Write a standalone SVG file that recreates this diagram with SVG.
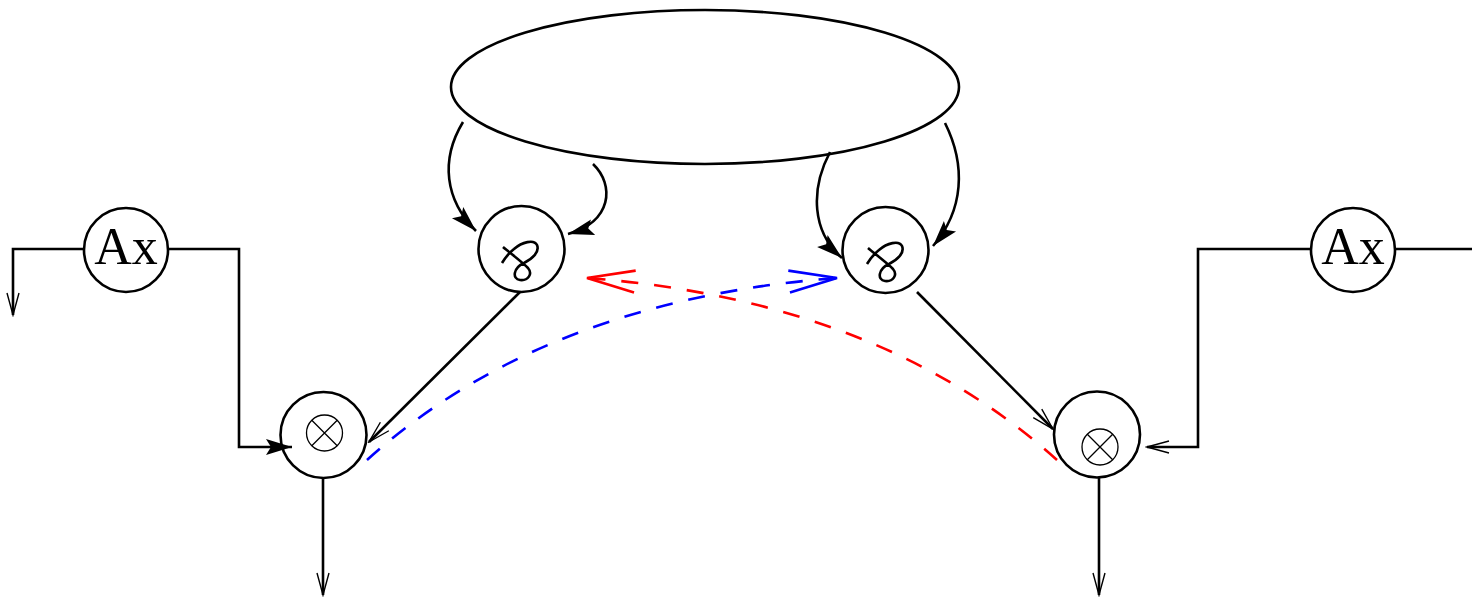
<svg xmlns="http://www.w3.org/2000/svg" width="1472" height="598" viewBox="0 0 1472 598">
<style>
.n{fill:none;stroke:#000;stroke-width:2.6}
.thin{fill:none;stroke:#000;stroke-width:1.3}
.ln{fill:none;stroke:#000;stroke-width:2.6}
.ax{font-family:"Liberation Serif","Times New Roman",serif;font-size:52px;fill:#000}
.db{fill:none;stroke:#0000ff;stroke-width:2.6;stroke-dasharray:17 16}
.dr{fill:none;stroke:#ff0000;stroke-width:2.6;stroke-dasharray:17 16}
</style>
<defs>
<marker id="mf" markerUnits="userSpaceOnUse" viewBox="-30 -12 32 24" refX="0" refY="0" markerWidth="32" markerHeight="24" orient="auto">
<path d="M0,0 L-26,-8 L-21,0 L-26,8 z" fill="#000"/>
</marker>
<marker id="mo" markerUnits="userSpaceOnUse" viewBox="-26 -10 28 20" refX="0" refY="0" markerWidth="28" markerHeight="20" orient="auto">
<path d="M-22,-6 L0,0 L-22,6" fill="none" stroke="#000" stroke-width="1.4"/>
</marker>
<marker id="mb" markerUnits="userSpaceOnUse" viewBox="-52 -14 56 28" refX="0" refY="0" markerWidth="56" markerHeight="28" orient="auto">
<path d="M-48,-11 L0,0 L-48,11" fill="none" stroke="#0000ff" stroke-width="2.6"/>
</marker>
<marker id="mr" markerUnits="userSpaceOnUse" viewBox="-52 -14 56 28" refX="0" refY="0" markerWidth="56" markerHeight="28" orient="auto">
<path d="M-48,-11 L0,0 L-48,11" fill="none" stroke="#ff0000" stroke-width="2.6"/>
</marker>
</defs>

<g id="connectors">
<path class="ln" d="M84,249 H13 V315" marker-end="url(#mo)"/>
<path class="ln" d="M168,249 H239 V447 H292" marker-end="url(#mf)"/>
<path class="ln" d="M1311,249 H1198 V447 H1147" marker-end="url(#mo)"/>
<path class="ln" d="M1395,249 H1472"/>
<path class="ln" d="M323,478 V595" marker-end="url(#mo)"/>
<path class="ln" d="M1099,477 V595" marker-end="url(#mo)"/>
<path class="ln" d="M463,122 C440,160 445,200 476,231" marker-end="url(#mf)"/>
<path class="ln" d="M593,164 C615,185 612,222 568,234" marker-end="url(#mf)"/>
<path class="ln" d="M830,152 C810,190 812,232 842,258" marker-end="url(#mf)"/>
<path class="ln" d="M945,123 C966,165 964,210 933,246" marker-end="url(#mf)"/>
<path class="ln" d="M520,292 L369,442" marker-end="url(#mo)"/>
<path class="ln" d="M917,292 L1053,429" marker-end="url(#mo)"/>
<path class="db" d="M367,460 Q545,300 837,278" marker-end="url(#mb)"/>
<path class="dr" d="M1057,460 Q879,300 587,278" marker-end="url(#mr)"/>
</g>

<g id="ellipse">
<ellipse class="n" cx="705" cy="87" rx="254" ry="77"/>
</g>

<g id="ax-left">
<circle class="n" cx="126" cy="250" r="42"/>
<text class="ax" x="126" y="264" text-anchor="middle">Ax</text>
</g>

<g id="ax-right">
<circle class="n" cx="1353" cy="250" r="42"/>
<text class="ax" x="1353" y="264" text-anchor="middle">Ax</text>
</g>

<g id="twist-left">
<circle class="n" cx="521.5" cy="249" r="43"/>
<path class="ln" d="M503,247 C510,253 522,262 528,268 C533,274 528,281 520,280 C512,279 513,268 524,263 C532,259 540,252 537,245 C534,239 522,242 514,249 C509,253 505,258 502,263"/>
</g>

<g id="twist-right">
<circle class="n" cx="885.5" cy="250" r="43"/>
<path class="ln" transform="translate(365,1)" d="M503,247 C510,253 522,262 528,268 C533,274 528,281 520,280 C512,279 513,268 524,263 C532,259 540,252 537,245 C534,239 522,242 514,249 C509,253 505,258 502,263"/>
</g>

<g id="otimes-left">
<circle class="n" cx="323.5" cy="435" r="43"/>
<circle class="thin" cx="324.5" cy="433" r="18"/>
<path class="thin" d="M311.8,420.3 L337.2,445.7 M337.2,420.3 L311.8,445.7"/>
</g>

<g id="otimes-right">
<circle class="n" cx="1097" cy="434.5" r="43"/>
<circle class="thin" cx="1100" cy="447" r="18"/>
<path class="thin" d="M1087.3,434.3 L1112.7,459.7 M1112.7,434.3 L1087.3,459.7"/>
</g>
</svg>
